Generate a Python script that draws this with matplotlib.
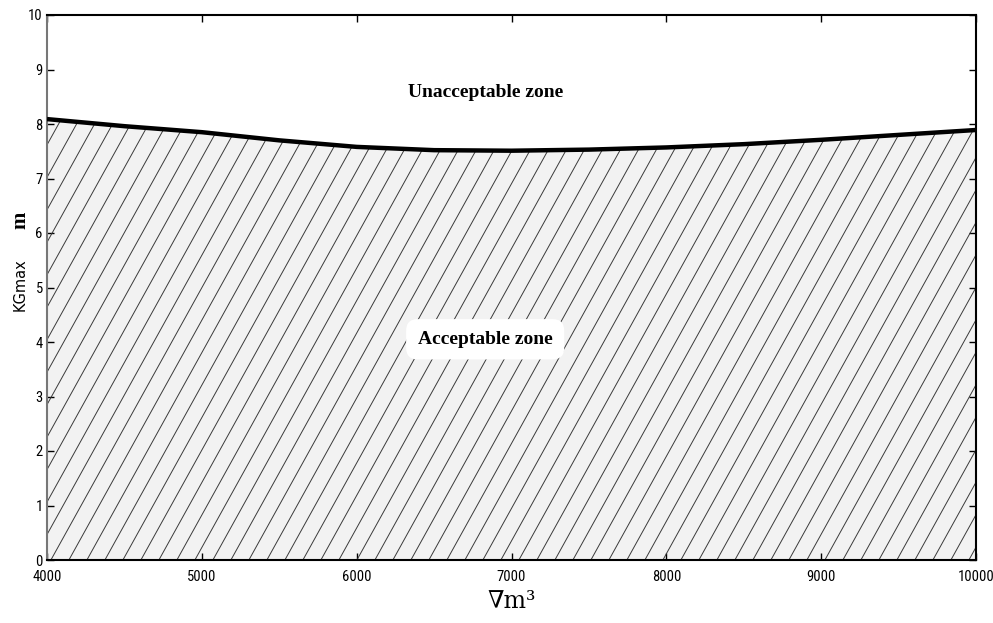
import numpy as np
import matplotlib
matplotlib.use('Agg')
import matplotlib.pyplot as plt
from matplotlib.collections import LineCollection

# limit curve
volume = [4000, 4500, 5000, 5500, 6000, 6500, 7000, 7500, 8000, 8500, 9000, 9500, 10000]
kg_max = [8.09, 7.96, 7.85, 7.70, 7.58, 7.52, 7.51, 7.53, 7.57, 7.63, 7.71, 7.80, 7.89]
x_ticks = [4000, 5000, 6000, 7000, 8000, 9000, 10000]
y_ticks = list(range(0, 11))

tick_font = ['Liberation Sans Narrow', 'DejaVu Sans Condensed', 'Roboto Condensed',
             'Liberation Sans']

fig = plt.figure(figsize=(9.93, 6.23), dpi=100)
ax = fig.add_axes([47/993, 63/623, 929/993, 545/623])

# light grey area under the curve, then hatch lines clipped to it
poly = ax.fill_between(volume, 0, kg_max, facecolor='#f2f2f2', edgecolor='none', zorder=1)

W, H = 929, 545  # axes size in pixels
ang = np.deg2rad(61)
step = 18.0 / W
shift = (H / np.tan(ang)) / W
starts = np.arange(-shift, 1.0 + step, step)
segs = [[(s, 0), (s + shift, 1)] for s in starts]
hatch = LineCollection(segs, colors='#3a3a3a', linewidths=0.7, transform=ax.transAxes, zorder=2)
hatch.set_clip_path(poly.get_paths()[0], poly.get_transform())
ax.add_collection(hatch)

ax.plot(volume, kg_max, color='black', lw=3.2, zorder=4, solid_capstyle='butt')

ax.set_xlim(4000, 10000)
ax.set_ylim(0, 10)
ax.set_xticks(x_ticks)
ax.set_yticks(y_ticks)
ax.tick_params(direction='in', length=5, width=1, top=True, right=True, labelsize=10.5)
ax.tick_params(axis='x', pad=7)
ax.tick_params(axis='y', pad=3)
for lab in ax.get_xticklabels() + ax.get_yticklabels():
    lab.set_family(tick_font)
for sp in ax.spines.values():
    sp.set_linewidth(1.5)
ax.spines['left'].set_color('#777777')

ax.text(6830, 8.57, 'Unacceptable zone', ha='center', va='center',
        family='Liberation Serif', weight='bold', fontsize=14, zorder=5)
ax.text(6830, 4.05, 'Acceptable zone', ha='center', va='center',
        family='Liberation Serif', weight='bold', fontsize=14, zorder=5,
        bbox=dict(boxstyle='round,pad=0.6', facecolor='white', edgecolor='none'))

fig.text(512/993, 1 - 602/623, '∇m³', ha='center', va='center',
         family='DejaVu Serif', fontsize=17)
fig.text(20/993, 1 - 285/623, 'KGmax', rotation=90, ha='center', va='center',
         family='DejaVu Sans', fontsize=10.5)
fig.text(20/993, 1 - 220/623, 'm', rotation=90, ha='center', va='center',
         family='Liberation Serif', weight='bold', fontsize=15)

fig.savefig('out.png', dpi=100)
